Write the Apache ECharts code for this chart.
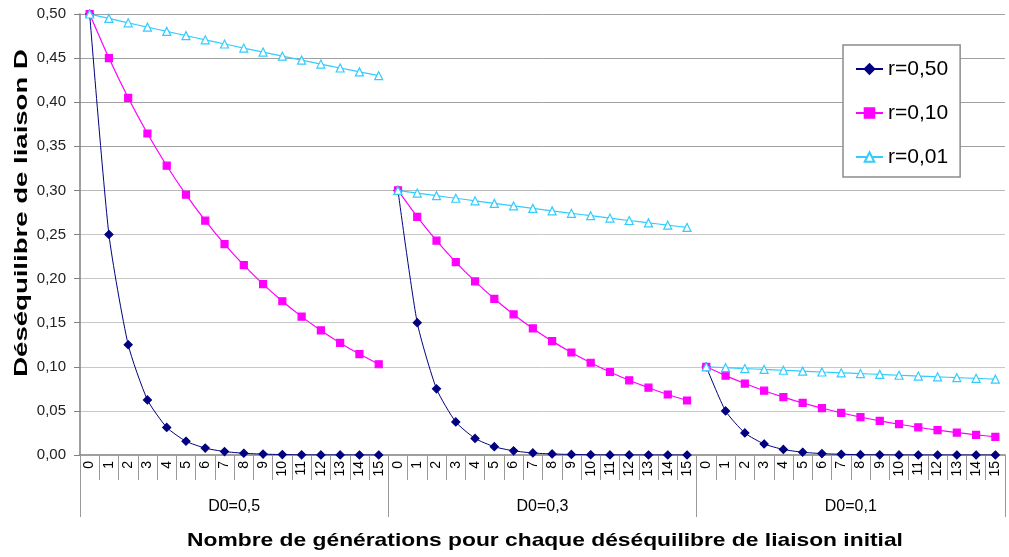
<!DOCTYPE html>
<html>
<head>
<meta charset="utf-8">
<script src="https://cdn.jsdelivr.net/npm/echarts@6/dist/echarts.min.js"></script>
<style>html,body{margin:0;padding:0;background:#fff}#c{width:1009px;height:557px}</style>
</head>
<body>
<div id="c"></div>
<script>
// Categories: generations 0..15 for each initial disequilibrium group
const generations = ['0','1','2','3','4','5','6','7','8','9','10','11','12','13','14','15'];
const groups = ['D0=0,5', 'D0=0,3', 'D0=0,1'];
const seriesNames = ['r=0,50', 'r=0,10', 'r=0,01'];
const yTicks = [0, 0.05, 0.10, 0.15, 0.20, 0.25, 0.30, 0.35, 0.40, 0.45, 0.50];

// D0 = 0,5
const g1_r50 = [0.5, 0.25, 0.125, 0.0625, 0.0313, 0.0156, 0.0078, 0.0039, 0.002, 0.001, 0.0005, 0.0002, 0.0001, 0.0001, 0, 0];
const g1_r10 = [0.5, 0.45, 0.405, 0.3645, 0.328, 0.2952, 0.2657, 0.2391, 0.2152, 0.1937, 0.1743, 0.1569, 0.1412, 0.1271, 0.1144, 0.1029];
const g1_r01 = [0.5, 0.495, 0.49, 0.4851, 0.4803, 0.4755, 0.4707, 0.466, 0.4614, 0.4568, 0.4522, 0.4477, 0.4432, 0.4388, 0.4344, 0.4301];
// D0 = 0,3
const g2_r50 = [0.3, 0.15, 0.075, 0.0375, 0.0188, 0.0094, 0.0047, 0.0023, 0.0012, 0.0006, 0.0003, 0.0001, 0.0001, 0, 0, 0];
const g2_r10 = [0.3, 0.27, 0.243, 0.2187, 0.1968, 0.1771, 0.1594, 0.1435, 0.1291, 0.1162, 0.1046, 0.0941, 0.0847, 0.0763, 0.0686, 0.0618];
const g2_r01 = [0.3, 0.297, 0.294, 0.2911, 0.2882, 0.2853, 0.2824, 0.2796, 0.2768, 0.274, 0.2713, 0.2686, 0.2659, 0.2632, 0.2606, 0.258];
// D0 = 0,1
const g3_r50 = [0.1, 0.05, 0.025, 0.0125, 0.0063, 0.0031, 0.0016, 0.0008, 0.0004, 0.0002, 0.0001, 0, 0, 0, 0, 0];
const g3_r10 = [0.1, 0.09, 0.081, 0.0729, 0.0656, 0.059, 0.0531, 0.0478, 0.043, 0.0387, 0.0349, 0.0314, 0.0282, 0.0254, 0.0229, 0.0206];
const g3_r01 = [0.1, 0.099, 0.098, 0.097, 0.0961, 0.0951, 0.0941, 0.0932, 0.0923, 0.0914, 0.0904, 0.0895, 0.0886, 0.0877, 0.0869, 0.086];

const FONT = '"Liberation Sans", Arial, sans-serif';
const categories = [];
groups.forEach((g, gi) => generations.forEach(n => categories.push(gi + '_' + n)));

function place(values, gi) {
  const arr = new Array(categories.length).fill(null);
  values.forEach((v, i) => { arr[gi * generations.length + i] = v; });
  return arr;
}

const styles = [
  { color: '#000080', symbol: 'diamond', size: 8, fill: '#000080', width: 1 },
  { color: '#FF00FF', symbol: 'rect', size: 7, fill: '#FF00FF', width: 1.2 },
  { color: '#33CCFF', symbol: 'triangle', size: 8, fill: '#ffffff', width: 1.2 }
];
const dataByGroup = [
  [g1_r50, g1_r10, g1_r01],
  [g2_r50, g2_r10, g2_r01],
  [g3_r50, g3_r10, g3_r01]
];

const series = [];
for (let si = 0; si < 3; si++) {
  for (let gi = 0; gi < 3; gi++) {
    const st = styles[si];
    series.push({
      name: seriesNames[si],
      type: 'line',
      xAxisIndex: 0,
      yAxisIndex: 0,
      data: place(dataByGroup[gi][si], gi),
      smooth: 0.2,
      symbol: st.symbol,
      symbolSize: st.size,
      showAllSymbol: true,
      connectNulls: false,
      lineStyle: { color: st.color, width: st.width },
      itemStyle: { color: st.fill, borderColor: st.color, borderWidth: 1.2 },
      z: 2 + si,
      animation: false
    });
  }
}

const chart = echarts.init(document.getElementById('c'), null, { renderer: 'canvas' });
chart.setOption({
  animation: false,
  backgroundColor: '#ffffff',
  grid: { left: 80, right: 4, top: 14, bottom: 102, containLabel: false },
  legend: {
    orient: 'vertical',
    left: 843, top: 45,
    padding: [13, 12, 9, 12],
    itemGap: 22,
    itemWidth: 27, itemHeight: 12,
    backgroundColor: '#ffffff',
    borderColor: '#8c8c8c', borderWidth: 1.5,
    textStyle: { fontFamily: FONT, fontSize: 21, color: '#000', lineHeight: 22 },
    data: seriesNames
  },
  xAxis: [
    {
      type: 'category',
      data: categories,
      boundaryGap: true,
      axisLine: { show: true, lineStyle: { color: '#808080', width: 1.5 } },
      axisTick: { show: true, interval: 0, length: 25, lineStyle: { color: '#999', width: 1 } },
      axisLabel: {
        interval: 0, rotate: 90, margin: 6,
        fontFamily: FONT, fontSize: 14, color: '#000',
        formatter: v => v.split('_')[1]
      },
      splitLine: { show: false }
    },
    {
      type: 'category',
      data: groups,
      position: 'bottom',
      boundaryGap: true,
      axisLine: { show: false },
      axisTick: { show: true, interval: 0, length: 62, lineStyle: { color: '#999', width: 1 } },
      axisLabel: { interval: 0, margin: 44, fontFamily: FONT, fontSize: 16, color: '#000' },
      splitLine: { show: false }
    }
  ],
  yAxis: {
    type: 'value',
    min: 0, max: 0.5, interval: 0.05,
    axisLine: { show: true, lineStyle: { color: '#808080', width: 1.5 } },
    axisTick: { show: true, length: 6, lineStyle: { color: '#808080' } },
    axisLabel: {
      margin: 14, fontFamily: FONT, fontSize: 15, color: '#222',
      formatter: v => {
        const t = yTicks.find(x => Math.abs(x - v) < 1e-9);
        return (t !== undefined ? t : v).toFixed(2).replace('.', ',');
      }
    },
    splitLine: {
      show: true,
      lineStyle: { color: ['#ffffff', '#c8c8c8', '#c8c8c8', '#c8c8c8', '#c8c8c8', '#c8c8c8', '#b8b8b8', '#a0a0a0', '#a0a0a0', '#a0a0a0', '#a0a0a0'], width: 1 }
    }
  },
  graphic: [
    {
      type: 'text',
      x: 22, y: 213,
      rotation: Math.PI / 2,
      scaleX: 1.45,
      style: {
        text: 'Déséquilibre de liaison D',
        font: 'bold 19px ' + FONT,
        fill: '#000',
        textAlign: 'center',
        textVerticalAlign: 'middle'
      }
    },
    {
      type: 'text',
      x: 545, y: 541,
      scaleX: 1.2,
      style: {
        text: 'Nombre de générations pour chaque déséquilibre de liaison initial',
        font: 'bold 19px ' + FONT,
        fill: '#000',
        textAlign: 'center',
        textVerticalAlign: 'middle'
      }
    }
  ],
  series: series
});
</script>
</body>
</html>
